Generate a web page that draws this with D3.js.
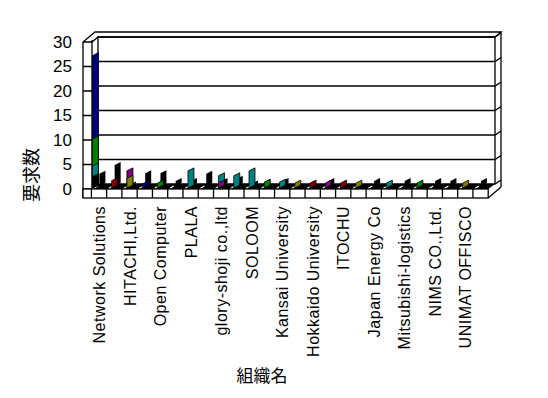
<!DOCTYPE html>
<html>
<head>
<meta charset="utf-8">
<script src="https://cdn.jsdelivr.net/npm/d3@7/dist/d3.min.js"></script>
<style>
  body { margin: 0; background: #fff; }
  text { font-family: "Liberation Sans", Arial, sans-serif; fill: #000; }
</style>
</head>
<body>
<div id="chart"></div>
<script>
// Data
var labels = ["Network Solutions", "HITACHI,Ltd.", "Open Computer", "PLALA",
    "glory-shoji co.,ltd", "SOLOOM", "Kansai University", "Hokkaido University",
    "ITOCHU", "Japan Energy Co", "Mitsubishi-logistics", "NIMS CO.,Ltd.", "UNIMAT OFFISCO"];
var categories = d3.range(26);   // only every second category is labelled
var yTicks = [0, 5, 10, 15, 20, 25, 30];

var navyVals   = [27, 0, 0, 0.8, 0, 0, 0, 0, 0, 0, 0, 0, 0, 0, 0, 0, 0, 0, 0, 0, 0, 0, 0, 0, 0, 0];
var greenVals  = [10, 0, 0, 0, 1, 0, 0, 0, 0, 0, 0, 1.2, 0, 0, 0, 0, 0, 0, 0, 0, 0, 1, 0, 0, 0, 0];
var tealVals   = [4.5, 0, 0, 0, 0, 0, 3.5, 0, 2.5, 2.5, 3.5, 0, 1.2, 0, 0, 0, 0, 0, 0, 1, 0, 0, 0, 0, 0, 0];
var redVals    = [0, 1.5, 0, 0, 0, 0, 0, 0, 0, 0, 0, 0, 0, 0, 1, 0, 1, 0, 0, 0, 0, 0, 0, 0, 0, 0];
var oliveVals  = [0, 0, 2, 0, 0, 0, 0, 0, 0, 0, 0, 0, 0, 1, 0, 0, 0, 1, 0, 0, 0, 0, 0, 0, 1, 0];
var purpleVals = [0, 0, 3.5, 0, 0, 0, 0, 0, 1, 0, 0, 0, 0, 0, 0, 1, 0, 0, 0, 0, 0, 0, 0, 0, 0, 0];
var blackFront = [2.3, 0, 0, 0, 0, 0, 0, 0, 0, 0, 0, 0, 0, 0, 0, 0, 0, 0, 0, 0, 0, 0, 0, 0, 0, 0];
var blackBack  = [2.5, 4.3, 0.3, 2.6, 2.6, 1, 1, 2.5, 1, 1.5, 0.5, 0, 1, 0, 0, 1, 0, 0, 1, 0, 1, 0, 1, 1, 0, 1];

var colored = [
    {c: "#000080", v: navyVals},
    {c: "#008000", v: greenVals},
    {c: "#008080", v: tealVals},
    {c: "#800000", v: redVals},
    {c: "#808000", v: oliveVals},
    {c: "#800080", v: purpleVals},
    {c: "#000000", v: blackFront}
];

var W = 548, H = 398;
var dx = 6, dy = -5;         // depth offset of back wall

var svg = d3.select("#chart").append("svg")
    .attr("width", W)
    .attr("height", H);

var x = d3.scaleBand().domain(categories).range([91.4, 488.2]).padding(0);
var y = d3.scaleLinear().domain([0, 30]).range([189, 42]);

var line = function(pts) { return "M" + pts.map(function(p) { return p.join(","); }).join("L"); };

var frame = svg.append("g")
    .attr("fill", "none")
    .attr("stroke", "#000")
    .attr("stroke-width", 1.3);

// gridlines on left wall / back wall
frame.selectAll("path.grid")
    .data(yTicks)
    .enter()
    .append("path")
    .attr("class", "grid")
    .attr("d", function(d) {
        var yy = y(d);
        return line([[83, yy], [92, yy], [92 + dx, yy + dy], [495, yy + dy], [501, yy + dy - 4]]);
    });

// outline of walls
frame.append("path").attr("d", line([[83, 198], [83, 42], [95, 32], [501, 32], [495, 37]]));
frame.append("path").attr("d", line([[92, 189], [92, 40]]));
frame.append("path").attr("d", line([[92 + dx, 184], [92 + dx, 37], [495, 37], [495, 184]]));
frame.append("path").attr("d", line([[501, 32], [501, 187]]));

// floor
svg.append("path")
    .attr("d", line([[92, 189], [488.2, 189], [495, 184], [98, 184]]) + "Z")
    .attr("fill", "#000");
svg.selectAll("path.dash")
    .data(categories)
    .enter()
    .append("path")
    .attr("class", "dash")
    .attr("d", function(d) {
        var x0 = x(d) + 2;
        return line([[x0, 188.5], [x0 + 4, 186]]);
    })
    .attr("stroke", "#fff")
    .attr("stroke-width", 1.3);

// front base row
svg.append("rect")
    .attr("x", 83).attr("y", 189)
    .attr("width", 488.2 - 83).attr("height", 9)
    .attr("fill", "#fff").attr("stroke", "#000").attr("stroke-width", 1.3);
svg.selectAll("line.div")
    .data(categories)
    .enter()
    .append("line")
    .attr("class", "div")
    .attr("x1", function(d) { return x(d); })
    .attr("x2", function(d) { return x(d); })
    .attr("y1", 189).attr("y2", 198)
    .attr("stroke", "#000").attr("stroke-width", 1.3);
frame.append("path").attr("d", line([[488.2, 198], [501, 187]]));

// bars: thin slanted panels
var bw = 6, rise = 3;
function panel(x0, base, v) {
    var top = base - (y(0) - y(v));
    return line([[x0, base], [x0, top], [x0 + bw, top - rise], [x0 + bw, base - rise]]) + "Z";
}

svg.append("g").selectAll("path")
    .data(categories.filter(function(i) { return blackBack[i] > 0; }))
    .enter()
    .append("path")
    .attr("d", function(i) { return panel(x(i) + 8, 186, blackBack[i]); })
    .attr("fill", "#000");

var colBars = [];
categories.forEach(function(i) {
    colored.map(function(s) { return {i: i, c: s.c, v: s.v[i]}; })
        .filter(function(d) { return d.v > 0; })
        .sort(function(a, b) { return b.v - a.v; })
        .forEach(function(d) { colBars.push(d); });
});
svg.append("g").selectAll("path")
    .data(colBars)
    .enter()
    .append("path")
    .attr("d", function(d) { return panel(x(d.i) + (d.i === 0 ? 1 : 5), 188, d.v); })
    .attr("fill", function(d) { return d.c; })
    .attr("stroke", "#000")
    .attr("stroke-width", 0.8);

// y axis labels
var yAxis = svg.append("g")
    .attr("transform", "translate(83,0)")
    .call(d3.axisLeft(y).tickValues(yTicks).tickSize(0).tickPadding(11));
yAxis.select(".domain").remove();
yAxis.selectAll("text")
    .style("font-size", "17px")
    .style("font-family", "Liberation Sans, Arial, sans-serif")
    .attr("fill", "#000");

// category labels, every second slot
svg.selectAll("text.cat")
    .data(labels)
    .enter()
    .append("text")
    .attr("class", "cat")
    .attr("transform", function(d, k) {
        return "translate(" + (x(k * 2) + x.bandwidth() / 2 + 6) + ",206) rotate(-90)";
    })
    .attr("text-anchor", "end")
    .style("font-size", "16px")
    .style("letter-spacing", "0.5px")
    .text(function(d) { return d; });

// axis titles
svg.append("text")
    .attr("transform", "translate(38,175) rotate(-90)")
    .attr("text-anchor", "middle")
    .style("font-family", "Noto Sans CJK JP")
    .style("font-size", "18px")
    .text("要求数");
svg.append("text")
    .attr("x", 262).attr("y", 382)
    .attr("text-anchor", "middle")
    .style("font-family", "Noto Sans CJK JP")
    .style("font-size", "17px")
    .text("組織名");
</script>
</body>
</html>
